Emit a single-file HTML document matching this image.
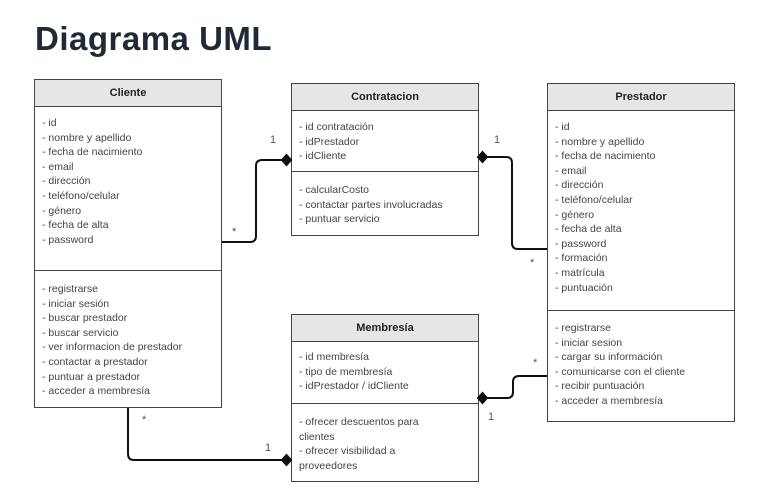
<!DOCTYPE html>
<html><head><meta charset="utf-8"><style>
body{margin:0;width:783px;height:504px;background:#fff;position:relative;overflow:hidden;font-family:"Liberation Sans",sans-serif;color:#333}
h1{position:absolute;left:35px;top:20px;margin:0;font-size:33px;font-weight:bold;color:#1f2a36;letter-spacing:0.5px}
.box{position:absolute;border:1.5px solid #444;background:#fff;box-sizing:border-box}
.hd{background:#e6e6e6;border-bottom:1.5px solid #444;height:26px;line-height:26px;text-align:center;font-weight:bold;font-size:11px;color:#222}
.sec{position:absolute;left:0;right:0;font-size:10.5px;line-height:14.6px;padding-left:7px;color:#444}
.div{position:absolute;left:0;right:0;border-top:1.5px solid #444}
.lb{position:absolute;font-size:11px;color:#555}
</style></head><body>
<h1>Diagrama UML</h1>

<div class="box" style="left:34px;top:79px;width:188px;height:329px">
<div class="hd">Cliente</div>
<div class="sec" style="top:36px">- id<br>- nombre y apellido<br>- fecha de nacimiento<br>- email<br>- dirección<br>- teléfono/celular<br>- género<br>- fecha de alta<br>- password</div>
<div class="div" style="top:190px"></div>
<div class="sec" style="top:202px">- registrarse<br>- iniciar sesión<br>- buscar prestador<br>- buscar servicio<br>- ver informacion de prestador<br>- contactar a prestador<br>- puntuar a prestador<br>- acceder a membresía</div>
</div>

<div class="box" style="left:291px;top:83px;width:188px;height:153px">
<div class="hd">Contratacion</div>
<div class="sec" style="top:36px">- id contratación<br>- idPrestador<br>- idCliente</div>
<div class="div" style="top:87px"></div>
<div class="sec" style="top:99px">- calcularCosto<br>- contactar partes involucradas<br>- puntuar servicio</div>
</div>

<div class="box" style="left:547px;top:83px;width:188px;height:339px">
<div class="hd">Prestador</div>
<div class="sec" style="top:36px">- id<br>- nombre y apellido<br>- fecha de nacimiento<br>- email<br>- dirección<br>- teléfono/celular<br>- género<br>- fecha de alta<br>- password<br>- formación<br>- matrícula<br>- puntuación</div>
<div class="div" style="top:226px"></div>
<div class="sec" style="top:237px">- registrarse<br>- iniciar sesion<br>- cargar su información<br>- comunicarse con el cliente<br>- recibir puntuación<br>- acceder a membresía</div>
</div>

<div class="box" style="left:291px;top:314px;width:188px;height:168px">
<div class="hd">Membresía</div>
<div class="sec" style="top:35px">- id membresía<br>- tipo de membresía<br>- idPrestador / idCliente</div>
<div class="div" style="top:88px"></div>
<div class="sec" style="top:100px">- ofrecer descuentos para<br>clientes<br>- ofrecer visibilidad a<br>proveedores</div>
</div>

<svg width="783" height="504" style="position:absolute;left:0;top:0" fill="none" stroke="#111" stroke-width="2">
<path d="M222 242 H250 Q256 242 256 236 V166 Q256 160 262 160 H283"/>
<polygon points="282,160 286.5,155 291,160 286.5,165" fill="#111"/>
<path d="M486 157 H506 Q512 157 512 163 V243 Q512 249 518 249 H547"/>
<polygon points="478,157 482.5,152 487,157 482.5,162" fill="#111"/>
<path d="M547 376 H519 Q513 376 513 382 V392 Q513 398 507 398 H486"/>
<polygon points="478,398 482.5,393 487,398 482.5,403" fill="#111"/>
<path d="M128 408 V454 Q128 460 134 460 H283"/>
<polygon points="282,460 286.5,455 291,460 286.5,465" fill="#111"/>
</svg>
<div class="lb" style="left:270px;top:134px">1</div>
<div class="lb" style="left:232px;top:226px">*</div>
<div class="lb" style="left:494px;top:134px">1</div>
<div class="lb" style="left:530px;top:257px">*</div>
<div class="lb" style="left:533px;top:357px">*</div>
<div class="lb" style="left:488px;top:411px">1</div>
<div class="lb" style="left:142px;top:414px">*</div>
<div class="lb" style="left:265px;top:442px">1</div>
</body></html>
